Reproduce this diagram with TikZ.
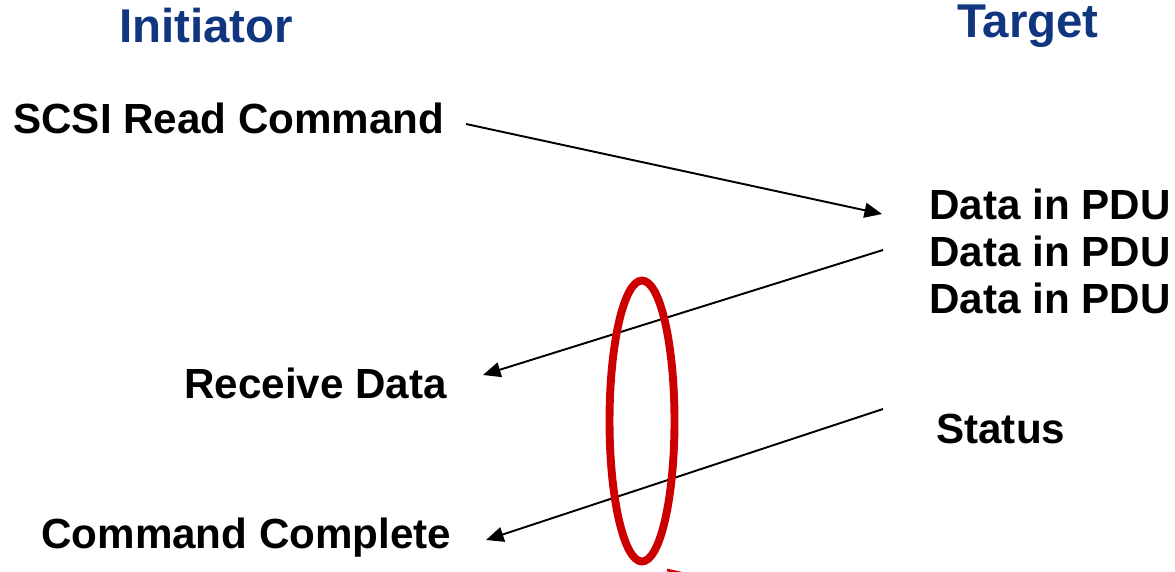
\documentclass[tikz,border=0pt]{standalone}
\usepackage{fontspec}
\setmainfont{Liberation Sans}
\usetikzlibrary{arrows.meta,shapes.geometric}
\definecolor{titleblue}{RGB}{16,54,128}
\definecolor{ovalred}{RGB}{204,0,0}
\begin{document}
\begin{tikzpicture}[x=0.02cm,y=-0.02cm,
  lbl/.style={font=\fontsize{24}{28}\selectfont\bfseries, inner sep=0pt, text=black},
  ttl/.style={font=\fontsize{27}{32}\selectfont\bfseries, inner sep=0pt, text=titleblue},
  msg/.style={line width=1.1pt, -{Triangle[length=10pt,width=8.5pt]}},
  oval/.style={draw=ovalred, line width=4.5pt, ellipse, inner sep=0pt,
    minimum width=1.3cm, minimum height=5.62cm}]
\useasboundingbox (0,0) rectangle (1175,571);
% titles
\node[ttl, anchor=base] (init) at (206,43) {Initiator};
\node[ttl, anchor=base] (targ) at (1028,38) {Target};
% labels
\node[lbl, anchor=base west] (scsi) at (13,133) {SCSI Read Command};
\node[lbl, anchor=base west] (d1) at (929,219) {Data in PDU};
\node[lbl, anchor=base west] (d2) at (929,266) {Data in PDU};
\node[lbl, anchor=base west] (d3) at (929,313) {Data in PDU};
\node[lbl, anchor=base west] (recv) at (184,398) {Receive Data};
\node[lbl, anchor=base west] (stat) at (936,443) {Status};
\node[lbl, anchor=base west] (done) at (41,548) {Command Complete};
% connector end points
\coordinate (a1s) at (466,124);
\coordinate (a1e) at (882,214);
\coordinate (a2s) at (883,250);
\coordinate (a2e) at (483,375);
\coordinate (a3s) at (883,409);
\coordinate (a3e) at (486,540);
\draw[msg] (a1s) -- (a1e);
\draw[msg] (a2s) -- (a2e);
\draw[msg] (a3s) -- (a3e);
% red oval
\node[oval] (ring) at (642,421) {};
\draw[ovalred, line width=1.5pt] (667,570) -- (690,575);
\end{tikzpicture}
\end{document}
